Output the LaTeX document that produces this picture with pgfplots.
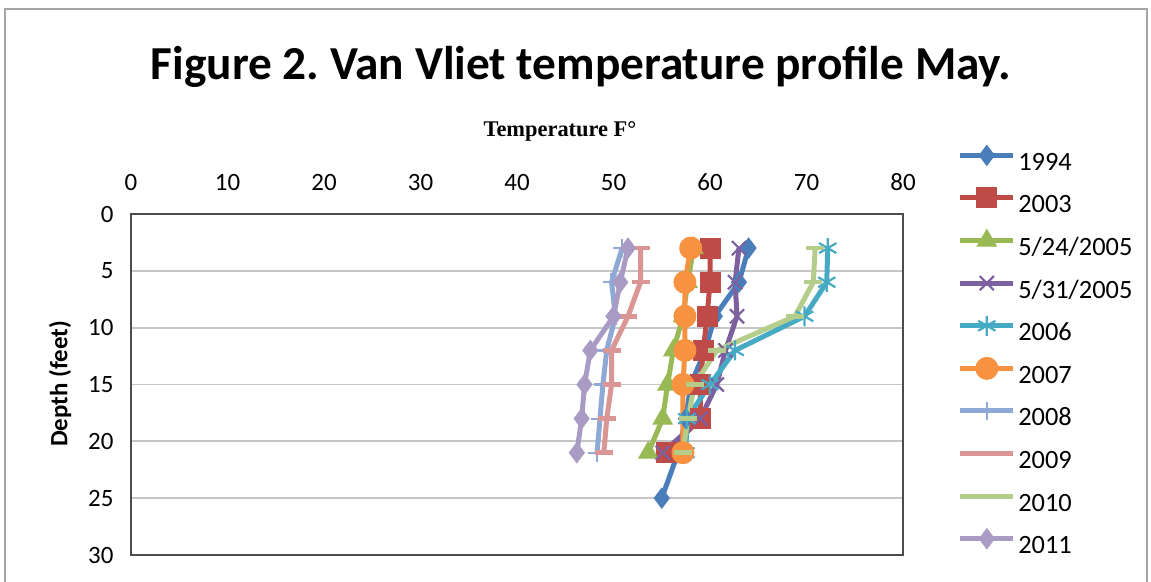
\documentclass[border=0pt]{standalone}
\usepackage{pgfplots}
\pgfplotsset{compat=1.18}
\usepackage{fontspec}
\setmainfont{Carlito}
\newfontfamily\timesfont{Liberation Serif}
\frenchspacing

\definecolor{cA}{HTML}{4A7EBB}
\definecolor{cB}{HTML}{BE4B48}
\definecolor{cC}{HTML}{98B954}
\definecolor{cD}{HTML}{7D60A0}
\definecolor{cE}{HTML}{46AAC5}
\definecolor{cF}{HTML}{F69240}
\definecolor{cG}{HTML}{8EA9D6}
\definecolor{cH}{HTML}{D99694}
\definecolor{cI}{HTML}{B5CD8B}
\definecolor{cJ}{HTML}{A99BC4}

\begin{document}
\begin{tikzpicture}
\path[use as bounding box] (0,0) rectangle (1151bp,582bp);
\draw[gray!70, line width=1.5bp] (5bp,-10bp) rectangle (1147bp,573bp);

\begin{axis}[
    at={(131bp,27bp)}, anchor=south west,
    scale only axis,
    width=772bp, height=341bp,
    xmin=0, xmax=80, ymin=0, ymax=30,
    y dir=reverse,
    xtick={0,10,...,80}, ytick={0,5,...,30},
    xticklabel pos=upper,
    major tick length=0pt,
    ymajorgrids,
    grid style={gray!45, line width=1.8bp},
    axis line style={draw=gray!60!black, line width=1.3bp},
    tick label style={font=\fontsize{25}{30}\selectfont},
    /pgf/number format/assume math mode=true,
    xticklabel style={yshift=20bp},
    yticklabel style={xshift=-14bp},
    every axis plot/.append style={line width=5bp},
    legend cell align=left,
    legend style={
        at={(axis description cs:1.074,1.196)}, anchor=north west,
        draw=none, fill=none, inner sep=0pt,
        font=\fontsize{26.5}{30}\selectfont,
        nodes={inner sep=0pt, text height=17bp, text depth=3bp},
        row sep=16.6bp, column sep=5bp
    },
    legend image code/.code={
        \path[draw=none, fill=none, mark=none] (0bp,0bp) rectangle (53bp,16bp);
        \draw[overlay, mark repeat=2, mark phase=2, #1]
            plot coordinates {(0bp,8bp) (26.5bp,8bp) (53bp,8bp)};
    },
]
\addplot[cA, mark=diamond*, mark size=10bp, mark options={solid, fill=cA, line width=1bp}]
    coordinates {(64,3) (63,6) (60.5,9) (59.5,12) (58,15) (57.5,18) (56.7,21) (55,25)};
\addplot[cB, mark=square*, mark size=10bp, mark options={solid, fill=cB, line width=1bp}]
    coordinates {(60,3) (60,6) (59.7,9) (59.3,12) (59,15) (59,18) (55.5,21)};
\addplot[cC, mark=triangle*, mark size=11bp, mark options={solid, fill=cC, line width=1bp}]
    coordinates {(58.3,3) (57.7,6) (57.2,9) (56.2,12) (55.6,15) (55.1,18) (53.6,21)};
\addplot[cD, mark=x, mark size=10bp, mark options={solid, line width=2.2bp}]
    coordinates {(63,3) (62.6,6) (62.8,9) (61.6,12) (60.7,15) (59,18) (55.1,21)};
\addplot[cE, mark=asterisk, mark size=10bp, mark options={solid, line width=2.2bp}]
    coordinates {(72.2,3) (72.1,6) (69.8,9) (62.6,12) (60,15) (57.6,18) (57.5,21)};
\addplot[cF, mark=*, mark size=11bp, mark options={solid, fill=cF, line width=1bp}]
    coordinates {(58,3) (57.4,6) (57.4,9) (57.4,12) (57.2,15) (57.2,21)};
\addplot[cG, mark=+, mark size=9bp, mark options={solid, line width=2.2bp}]
    coordinates {(50.9,3) (49.8,6) (50.2,9) (49.3,12) (48.9,15) (48.6,18) (48.3,21)};
\addplot[cH, mark=-, mark size=9bp, mark options={solid, line width=4.5bp}]
    coordinates {(52.8,3) (52.8,6) (51.5,9) (49.8,12) (49.8,15) (49.3,18) (49,21)};
\addplot[cI, mark=-, mark size=9bp, mark options={solid, line width=4.5bp}]
    coordinates {(70.9,3) (70.7,6) (68.8,9) (60.7,12) (58.4,15) (57.7,18) (57.2,21)};
\addplot[cJ, mark=diamond*, mark size=10bp, mark options={solid, fill=cJ, line width=1bp}]
    coordinates {(51.5,3) (50.7,6) (50,9) (47.6,12) (47,15) (46.7,18) (46.2,21)};
\legend{1994, 2003, 5/24/2005, 5/31/2005, 2006, 2007, 2008, 2009, 2010, 2011}
\end{axis}

\node[anchor=base, font=\fontsize{47.5}{52}\selectfont\bfseries] at (581bp,502bp)
    {Figure 2. Van Vliet temperature profile May.};
\node[anchor=base, font=\fontsize{22.5}{27}\selectfont\timesfont\bfseries] at (560bp,445bp)
    {Temperature F°};
\node[rotate=90, font=\fontsize{25}{30}\selectfont\bfseries] at (60bp,198bp)
    {Depth (feet)};
\end{tikzpicture}
\end{document}
